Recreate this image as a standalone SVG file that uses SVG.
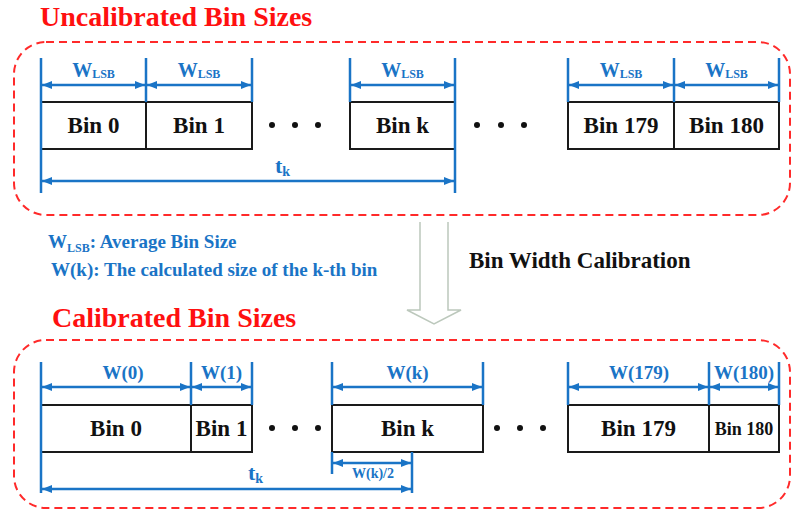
<svg xmlns="http://www.w3.org/2000/svg" width="791" height="513" viewBox="0 0 791 513">
  <defs>
    <marker id="head" viewBox="0 0 10 8" refX="10" refY="4" markerWidth="10" markerHeight="8" markerUnits="userSpaceOnUse" orient="auto-start-reverse">
      <path d="M0,0 L10,4 L0,8 Z" fill="#1a74c6"/>
    </marker>
    <style>
      text { font-family: "Liberation Serif", "Times New Roman", serif; font-weight: bold; }
      .title { fill: #ff1010; font-size: 28px; }
      .frame { fill: none; stroke: #ff2a2a; stroke-width: 2; stroke-dasharray: 8 5; }
      .bin { fill: #ffffff; stroke: #1a1a1a; stroke-width: 2; }
      .bintxt { fill: #111111; font-size: 23px; text-anchor: middle; }
      .small { font-size: 18px; }
      .tick { stroke: #1a74c6; stroke-width: 2.5; fill: none; }
      .dim { stroke: #1a74c6; stroke-width: 2.5; fill: none; marker-start: url(#head); marker-end: url(#head); }
      .lbl { fill: #1a74c6; font-size: 19px; text-anchor: middle; }
      .half { fill: #1a74c6; font-size: 14px; text-anchor: middle; }
      .lsb { fill: #1a74c6; font-size: 20px; text-anchor: middle; }
      .tk { fill: #1a74c6; font-size: 22px; }
      .sub { font-size: 12px; }
      .tksub { font-size: 14px; }
      .legend { fill: #1a74c6; font-size: 19px; }
      .step { fill: #111111; font-size: 23px; }
      .dot { fill: #111111; }
    </style>
  </defs>

  <!-- section titles -->
  <text class="title" x="40" y="26">Uncalibrated Bin Sizes</text>
  <text class="title" x="52" y="327">Calibrated Bin Sizes</text>

  <!-- dashed frames -->
  <rect class="frame" x="14" y="42" width="776" height="173" rx="32" ry="32"/>
  <rect class="frame" x="14" y="340" width="776" height="168" rx="32" ry="32"/>

  <!-- legend -->
  <text class="legend" x="48" y="248">W<tspan class="sub" dy="4">LSB</tspan><tspan dy="-4">: Average Bin Size</tspan></text>
  <text class="legend" x="51" y="276">W(k): The calculated size of the k-th bin</text>

  <!-- calibration step -->
  <g id="calibration-arrow">
    <path d="M420,222 V310 H407 L434,324 L461,310 H448 V222" fill="none" stroke="#bcc8bc" stroke-width="1.5"/>
    <text class="step" x="469" y="268">Bin Width Calibration</text>
  </g>

  <!-- uncalibrated bins -->
  <g id="u-bin0"><rect class="bin" x="41" y="102" width="105" height="47"/><text class="bintxt" x="93.5" y="133">Bin 0</text></g>
  <g id="u-bin1"><rect class="bin" x="146" y="102" width="106" height="47"/><text class="bintxt" x="199" y="133">Bin 1</text></g>
  <g id="u-bink"><rect class="bin" x="350" y="102" width="105" height="47"/><text class="bintxt" x="402.5" y="133">Bin k</text></g>
  <g id="u-bin179"><rect class="bin" x="568" y="102" width="106" height="47"/><text class="bintxt" x="621" y="133">Bin 179</text></g>
  <g id="u-bin180"><rect class="bin" x="674" y="102" width="105" height="47"/><text class="bintxt" x="726.5" y="133">Bin 180</text></g>
  <g id="u-dots">
    <circle class="dot" cx="272" cy="125" r="3"/><circle class="dot" cx="295" cy="125" r="3"/><circle class="dot" cx="318" cy="125" r="3"/>
    <circle class="dot" cx="477" cy="125" r="3"/><circle class="dot" cx="501" cy="125" r="3"/><circle class="dot" cx="524" cy="125" r="3"/>
  </g>

  <!-- calibrated bins -->
  <g id="c-bin0"><rect class="bin" x="41" y="405" width="150" height="47"/><text class="bintxt" x="116" y="436">Bin 0</text></g>
  <g id="c-bin1"><rect class="bin" x="191" y="405" width="61" height="47"/><text class="bintxt" x="221.5" y="436">Bin 1</text></g>
  <g id="c-bink"><rect class="bin" x="332" y="405" width="151" height="47"/><text class="bintxt" x="407.5" y="436">Bin k</text></g>
  <g id="c-bin179"><rect class="bin" x="568" y="405" width="141" height="47"/><text class="bintxt" x="638.5" y="436">Bin 179</text></g>
  <g id="c-bin180"><rect class="bin" x="709" y="405" width="70" height="47"/><text class="bintxt small" x="744" y="435">Bin 180</text></g>
  <g id="c-dots">
    <circle class="dot" cx="272" cy="428" r="3"/><circle class="dot" cx="295" cy="428" r="3"/><circle class="dot" cx="318" cy="428" r="3"/>
    <circle class="dot" cx="497" cy="428" r="3"/><circle class="dot" cx="520" cy="428" r="3"/><circle class="dot" cx="543" cy="428" r="3"/>
  </g>

  <!-- dimension lines -->
  <g id="connectors">
    <!-- uncalibrated ticks -->
    <path class="tick" d="M41,58 V193 M146,58 V102 M252,58 V102 M350,58 V102 M455,58 V193 M568,58 V102 M674,58 V102 M779,58 V102"/>
    <line class="dim" x1="42" y1="85" x2="145" y2="85"/>
    <line class="dim" x1="147" y1="85" x2="251" y2="85"/>
    <line class="dim" x1="351" y1="85" x2="454" y2="85"/>
    <line class="dim" x1="569" y1="85" x2="673" y2="85"/>
    <line class="dim" x1="675" y1="85" x2="778" y2="85"/>
    <line class="dim" x1="42" y1="181" x2="454" y2="181"/>

    <!-- calibrated ticks -->
    <path class="tick" d="M41,362 V493 M191,362 V405 M252,362 V405 M332,362 V405 M483,362 V405 M568,362 V405 M709,362 V405 M779,362 V405 M332,452 V474 M412,452 V493"/>
    <line class="dim" x1="42" y1="387" x2="190" y2="387"/>
    <line class="dim" x1="192" y1="387" x2="251" y2="387"/>
    <line class="dim" x1="333" y1="387" x2="482" y2="387"/>
    <line class="dim" x1="569" y1="387" x2="708" y2="387"/>
    <line class="dim" x1="710" y1="387" x2="778" y2="387"/>
    <line class="dim" x1="333" y1="463" x2="411" y2="463"/>
    <line class="dim" x1="42" y1="489" x2="411" y2="489"/>
  </g>

  <!-- dimension labels -->
  <g id="labels">
    <text class="lsb" x="93.5" y="77">W<tspan class="sub" dy="1">LSB</tspan></text>
    <text class="lsb" x="199" y="77">W<tspan class="sub" dy="1">LSB</tspan></text>
    <text class="lsb" x="402.5" y="77">W<tspan class="sub" dy="1">LSB</tspan></text>
    <text class="lsb" x="621" y="77">W<tspan class="sub" dy="1">LSB</tspan></text>
    <text class="lsb" x="726.5" y="77">W<tspan class="sub" dy="1">LSB</tspan></text>
    <text class="tk" x="275" y="173">t<tspan class="tksub" dy="3">k</tspan></text>

    <text class="lbl" x="123" y="379">W(0)</text>
    <text class="lbl" x="221.5" y="379">W(1)</text>
    <text class="lbl" x="407.5" y="379">W(k)</text>
    <text class="lbl" x="639" y="379">W(179)</text>
    <text class="lbl" x="744" y="379">W(180)</text>
    <text class="half" x="373" y="478">W(k)/2</text>
    <text class="tk" x="248" y="480">t<tspan class="tksub" dy="3">k</tspan></text>
  </g>
</svg>
